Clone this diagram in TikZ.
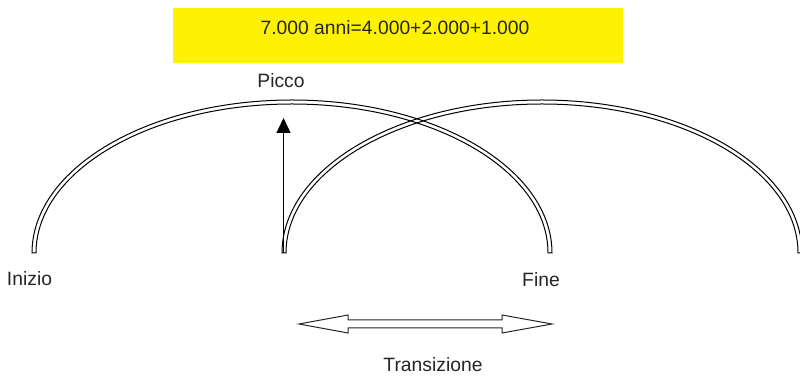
\documentclass[tikz,border=0pt]{standalone}
\usepackage{fontspec}
\setmainfont{Liberation Sans}
\usetikzlibrary{arrows.meta}
\begin{document}
\begin{tikzpicture}[x=1pt,y=1pt,
  lbl/.style={anchor=base,inner sep=0pt,font=\fontsize{19.3}{22}\selectfont,text=black!85},
  band/.style={draw=black,line width=1pt,line join=miter},
  blockarrow/.style={draw=black!85,line width=1pt,line join=miter}]
\fill[white] (0,0) rectangle (800,377);
\useasboundingbox (0,0) rectangle (800,377);
% title box
\node[fill=yellow,minimum width=450pt,minimum height=55pt,inner sep=0pt] (box) at (398,341.5) {};
\node[lbl] (title) at (395,342) {7.000 anni=4.000+2.000+1.000};
% arcs
\draw[band] (32,124) arc[start angle=180,end angle=0,x radius=260,y radius=153]
  -- (548,124) arc[start angle=0,end angle=180,x radius=256,y radius=149] -- cycle;
\draw[band] (282,124) arc[start angle=180,end angle=0,x radius=260,y radius=153]
  -- (798,124) arc[start angle=0,end angle=180,x radius=256,y radius=149] -- cycle;
% peak arrow
\coordinate (base) at (283.5,124);
\coordinate (peak) at (283.5,259);
\draw[line width=1.3pt,black,-{Triangle[length=15pt,width=14pt]}] (base) -- (peak);
% labels
\node[lbl] (picco) at (281,289) {Picco};
\node[lbl] (inizio) at (29.5,91) {Inizio};
\node[lbl] (fine) at (541,90) {Fine};
\node[lbl] (trans) at (433,5) {Transizione};
% double block arrow
\coordinate (tl) at (299,53);
\coordinate (tr) at (552,53);
\draw[blockarrow] (tl) -- (348,62) -- (348,57) -- (502,57) -- (502,62) -- (tr)
  -- (502,44) -- (502,49) -- (348,49) -- (348,44) -- cycle;
\end{tikzpicture}
\end{document}
